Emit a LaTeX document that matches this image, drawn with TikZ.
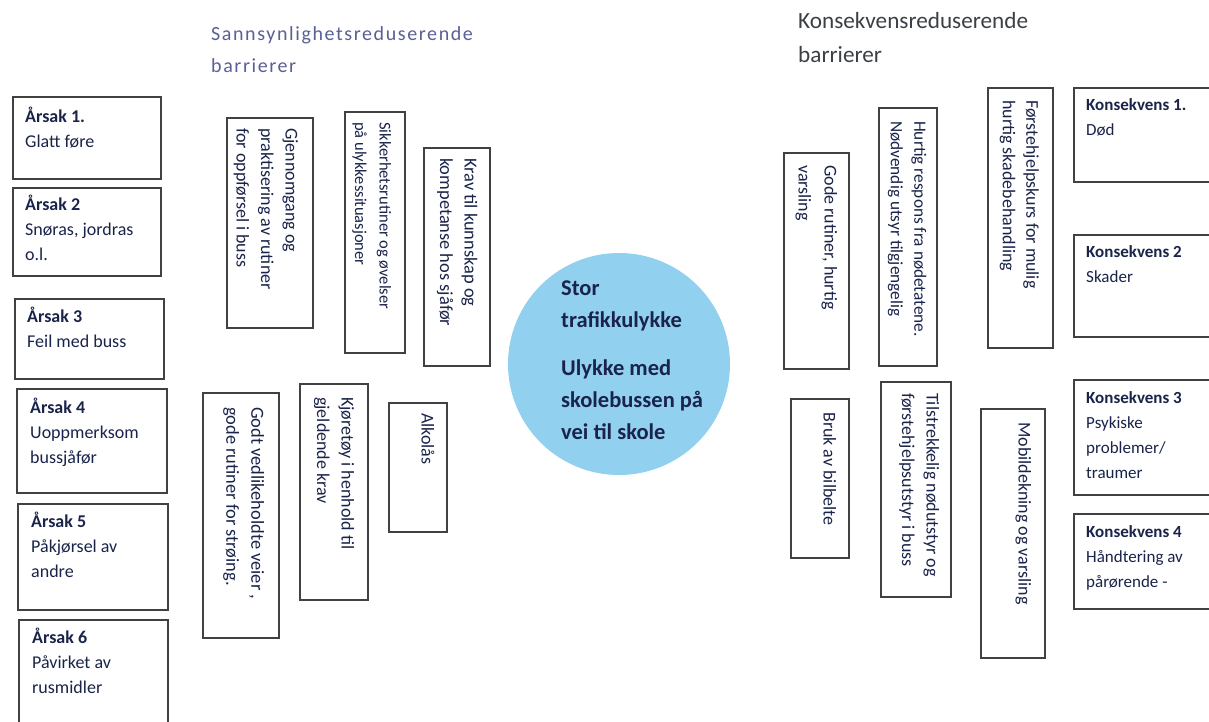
\documentclass[tikz,border=0pt]{standalone}
\usepackage{fontspec}
\setmainfont{Carlito}
\newfontfamily\spacedfont[LetterSpace=8]{Carlito}
\definecolor{ink}{RGB}{26,36,74}
\definecolor{boxline}{RGB}{65,65,65}
\definecolor{bubble}{RGB}{146,208,240}
\definecolor{headA}{RGB}{89,96,150}
\definecolor{headB}{RGB}{60,64,70}
\tikzset{
  box/.style={draw=boxline, line width=1.5pt, inner sep=0, anchor=north west, rectangle},
  htext/.style={anchor=north west, inner sep=0, align=left, text=ink, font=\fontsize{18}{25}\selectfont},
  ktext/.style={htext, font=\fontsize{17}{25}\selectfont},
  vtext/.style={anchor=north west, inner sep=0, align=left, text=ink, rotate=-90, font=\fontsize{18}{24.5}\selectfont},
  bubbletext/.style={anchor=north west, inner sep=0, align=left, text=ink, font=\bfseries\fontsize{22.5}{32}\selectfont},
}
\newcommand\mkbox[5]{\node[box, minimum width={#4-#2}, minimum height={#5-#3}] (#1) at (#2,#3) {};}
\begin{document}
\begin{tikzpicture}[x=1pt,y=-1pt]
\useasboundingbox[fill=white] (0,0) rectangle (1209,721);

% headings
\node[anchor=north west, inner sep=0, align=left, text=headA, font=\spacedfont\fontsize{20}{32}\selectfont] (h1) at (211,17.6) {\strut Sannsynlighetsreduserende\\barrierer};
\node[anchor=north west, inner sep=0, align=left, text=headB, font=\fontsize{23.2}{34}\selectfont] (h2) at (798,4.2) {\strut Konsekvensreduserende\\barrierer};

% causes
\mkbox{a1}{12}{96}{160}{178}
\mkbox{a2}{12}{187}{160}{275}
\mkbox{a3}{14}{298}{163}{378}
\mkbox{a4}{16}{388}{166}{492}
\mkbox{a5}{17}{503}{167}{609}
\mkbox{a6}{18}{619}{167}{735}
\node[htext] (a1t) at (25,104.5) {\strut\textbf{Årsak 1.}\\Glatt føre};
\node[htext] (a2t) at (25,192.5) {\strut\textbf{Årsak 2}\\Snøras, jordras\\o.l.};
\node[htext] (a3t) at (27,304.5) {\strut\textbf{Årsak 3}\\Feil med buss};
\node[htext] (a4t) at (30,395.5) {\strut\textbf{Årsak 4}\\Uoppmerksom\\bussjåfør};
\node[htext] (a5t) at (31,509.5) {\strut\textbf{Årsak 5}\\Påkjørsel av\\andre};
\node[htext] (a6t) at (32,625.5) {\strut\textbf{Årsak 6}\\Påvirket av\\rusmidler};

% probability-reducing barriers
\mkbox{pA}{226}{117}{312}{327}
\mkbox{pB}{344}{111}{404}{352}
\mkbox{pC}{423}{147}{489}{365}
\mkbox{pD}{202}{392}{278}{637}
\mkbox{pE}{299}{383}{367}{599}
\mkbox{pF}{388}{402}{446}{531}
\node[vtext] (pAt) at (303,128) {\strut Gjennomgang og\\praktisering av rutiner\\for oppførsel i buss};
\node[vtext, font=\fontsize{16.5}{24.5}\selectfont] (pBt) at (397,122) {\strut Sikkerhetsrutiner og øvelser\\på ulykkessituasjoner};
\node[vtext, font=\fontsize{18.4}{24.5}\selectfont] (pCt) at (482,158) {\strut Krav til kunnskap og\\kompetanse hos sjåfør};
\node[vtext, font=\fontsize{18.4}{25}\selectfont] (pDt) at (269,407) {\strut Godt vedlikeholdte veier ,\\gode rutiner for strøing.};
\node[vtext] (pEt) at (359,397) {\strut Kjøretøy i henhold til\\gjeldende krav};
\node[vtext] (pFt) at (439,413) {\strut Alkolås};

% top event
\node[circle, fill=bubble, minimum size=222, inner sep=0] (ev) at (619,364) {};
\node[bubbletext] (evt) at (561,272.6) {\strut Stor\\trafikkulykke\\[16pt]Ulykke med\\skolebussen på\\vei til skole};

% consequence-reducing barriers
\mkbox{cG}{783}{152}{848}{368}
\mkbox{cH}{878}{107}{936}{365}
\mkbox{cI}{987}{87}{1052}{347}
\mkbox{cJ}{790}{398}{848}{557}
\mkbox{cK}{880}{381}{950}{596}
\mkbox{cL}{980}{408}{1044}{657}
\node[vtext, font=\fontsize{18}{26}\selectfont] (cGt) at (843,165) {\strut Gode rutiner, hurtig\\varsling};
\node[vtext, font=\fontsize{17.3}{23.5}\selectfont] (cHt) at (931,121) {\strut Hurtig respons fra nødetatene.\\Nødvendig utsyr tilgjengelig};
\node[vtext, font=\fontsize{18}{23.5}\selectfont] (cIt) at (1043,100) {\strut Førstehjelpskurs for mulig\\hurtig skadebehandling};
\node[vtext] (cJt) at (841,412) {\strut Bruk av bilbelte};
\node[vtext] (cKt) at (944,393) {\strut Tilstrekkelig nødutstyr og\\førstehjelpsutstyr i buss};
\node[vtext] (cLt) at (1036,422) {\strut Mobildekning og varsling};

% consequences
\mkbox{k1}{1073}{87}{1225}{181}
\mkbox{k2}{1073}{234}{1225}{336}
\mkbox{k3}{1073}{379}{1225}{494}
\mkbox{k4}{1073}{513}{1225}{608}
\node[ktext] (k1t) at (1086,92.5) {\strut\textbf{Konsekvens 1.}\\Død};
\node[ktext] (k2t) at (1086,239.5) {\strut\textbf{Konsekvens 2}\\Skader};
\node[ktext] (k3t) at (1086,385.5) {\strut\textbf{Konsekvens 3}\\Psykiske\\problemer/\\traumer};
\node[ktext] (k4t) at (1086,519.5) {\strut\textbf{Konsekvens 4}\\Håndtering av\\pårørende -};
\end{tikzpicture}
\end{document}
